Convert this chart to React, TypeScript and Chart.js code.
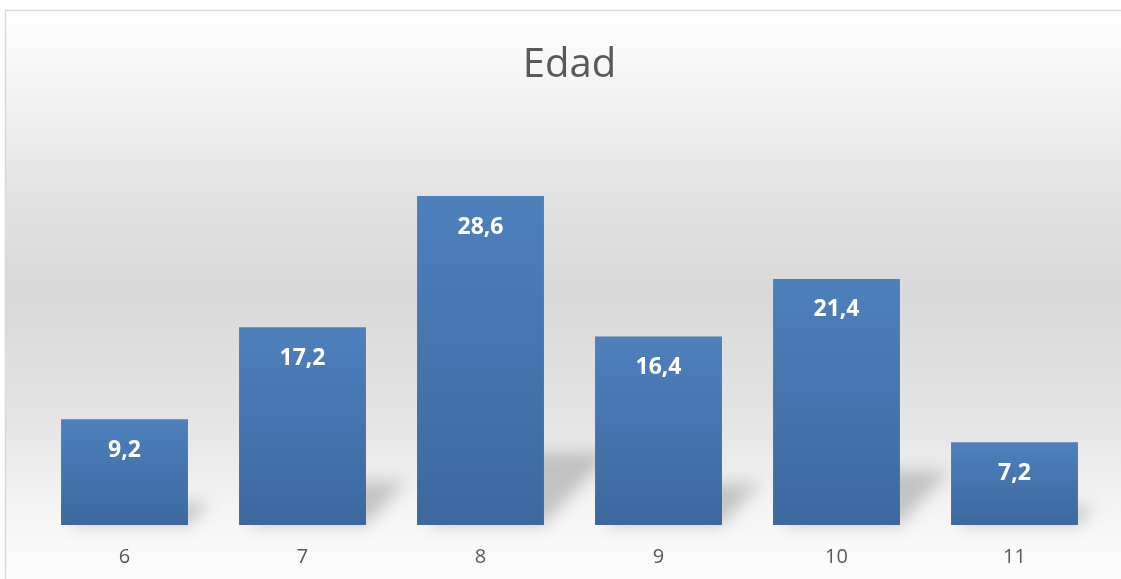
import React, { useEffect, useRef } from "react";
import { Chart, registerables } from "chart.js";

Chart.register(...registerables);

const categories = ["6", "7", "8", "9", "10", "11"];
const values = [9.2, 17.2, 28.6, 16.4, 21.4, 7.2];
const titleText = "Edad";

const fmt = (v: number) => v.toFixed(1).replace(".", ",");

const bgPlugin = {
  id: "bgPlugin",
  beforeDraw(chart: any) {
    const { ctx, width, height } = chart;
    ctx.save();
    ctx.fillStyle = "#ffffff";
    ctx.fillRect(0, 0, width, height);
    const g = ctx.createLinearGradient(0, 10, 0, height);
    g.addColorStop(0, "#ffffff");
    g.addColorStop(0.15, "#f3f3f3");
    g.addColorStop(0.33, "#e2e2e2");
    g.addColorStop(0.5, "#d9d9d9");
    g.addColorStop(0.72, "#e4e4e4");
    g.addColorStop(0.87, "#f4f4f4");
    g.addColorStop(1, "#fdfdfd");
    ctx.fillStyle = g;
    ctx.fillRect(6, 11, width, height);
    ctx.strokeStyle = "#d9d9d9";
    ctx.lineWidth = 1.5;
    ctx.beginPath();
    ctx.moveTo(5.5, height + 2);
    ctx.lineTo(5.5, 10.5);
    ctx.lineTo(width + 2, 10.5);
    ctx.stroke();
    ctx.restore();
  },
  beforeDatasetsDraw(chart: any) {
    const { ctx } = chart;
    const meta = chart.getDatasetMeta(0);
    ctx.save();
    ctx.filter = "blur(8px)";
    ctx.fillStyle = "rgba(130,130,130,0.42)";
    meta.data.forEach((bar: any) => {
      const h = bar.base - bar.y;
      const left = bar.x - bar.width / 2;
      const right = bar.x + bar.width / 2;
      const dy = h * 0.22;
      const dx = h * 0.2;
      ctx.beginPath();
      ctx.moveTo(left + 10, bar.base);
      ctx.lineTo(right, bar.base);
      ctx.lineTo(right + dx, bar.base - dy);
      ctx.lineTo(left + dx, bar.base - dy);
      ctx.closePath();
      ctx.fill();
    });
    ctx.restore();
  },
  afterDatasetsDraw(chart: any) {
    const { ctx } = chart;
    const meta = chart.getDatasetMeta(0);
    ctx.save();
    ctx.fillStyle = "#ffffff";
    ctx.font = "bold 23px 'Open Sans'";
    ctx.textAlign = "center";
    ctx.textBaseline = "middle";
    meta.data.forEach((bar: any, i: number) => {
      ctx.fillText(fmt(values[i]), bar.x, bar.y + 31);
    });
    ctx.restore();
  },
};

export default function App() {
  const ref = useRef<HTMLCanvasElement>(null);
  useEffect(() => {
    if (!ref.current) return;
    const chart = new Chart(ref.current, {
      type: "bar",
      data: {
        labels: categories,
        datasets: [
          {
            data: values,
            categoryPercentage: 0.713,
            barPercentage: 1,
            backgroundColor: (c: any) => {
              const ch = c.chart;
              const ys = ch.scales && ch.scales.y;
              if (!ch.chartArea || !ys || c.raw == null) return "#4675b0";
              const top = ys.getPixelForValue(c.raw);
              const base = ys.getPixelForValue(0);
              if (!isFinite(top) || !isFinite(base) || base - top < 1) return "#4675b0";
              const g = ch.ctx.createLinearGradient(0, top, 0, base);
              g.addColorStop(0, "#4e80bc");
              g.addColorStop(1, "#3c689f");
              return g;
            },
          },
        ],
      },
      options: {
        responsive: false,
        animation: false,
        layout: { padding: { left: 35.5, right: 17.5, top: 0, bottom: 0 } },
        plugins: {
          legend: { display: false },
          tooltip: { enabled: false },
          title: {
            display: true,
            text: titleText,
            color: "#595959",
            font: { family: "'Open Sans'", size: 40, weight: "normal" },
            padding: { top: 42, bottom: 32.5 },
          },
        },
        scales: {
          x: {
            grid: { display: false, drawTicks: false },
            border: { display: false },
            ticks: {
              color: "#595959",
              font: { family: "'Open Sans'", size: 20 },
              padding: 20,
            },
            afterFit: (scale: any) => {
              scale.height = 54;
            },
          },
          y: { display: false, min: 0, max: 35 },
        },
      },
      plugins: [bgPlugin],
    });
    return () => chart.destroy();
  }, []);
  return (
    <div style={{ position: "fixed", left: 0, top: 0, width: 1121, height: 579 }}>
      <canvas ref={ref} width={1121} height={579} style={{ display: "block" }} />
    </div>
  );
}
